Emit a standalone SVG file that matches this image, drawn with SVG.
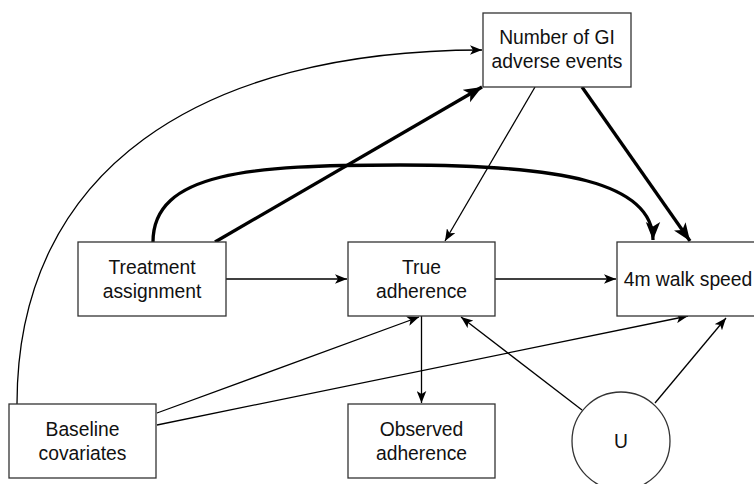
<svg xmlns="http://www.w3.org/2000/svg" width="754" height="484" viewBox="0 0 754 484">
<defs>
<marker id="a" viewBox="0 0 10 8" markerWidth="12" markerHeight="10" refX="10" refY="4" orient="auto" markerUnits="userSpaceOnUse"><path d="M0,0 L10,4 L0,8 L2.5,4 Z" fill="#000"/></marker>
<marker id="b" viewBox="0 0 10 8" markerWidth="18" markerHeight="16" refX="10" refY="4" orient="auto" markerUnits="userSpaceOnUse"><path d="M0,0 L10,4 L0,8 L2.5,4 Z" fill="#000"/></marker>
</defs>
<style>
.n rect,.n ellipse{fill:#fff;stroke:#333;stroke-width:1.3}
.n text{font-family:"Liberation Sans",Arial,sans-serif;font-size:19.3px;fill:#111;text-anchor:middle}
.t{fill:none;stroke:#000;stroke-width:1.3;marker-end:url(#a)}
.k{fill:none;stroke:#000;stroke-width:3.3;marker-end:url(#b)}
</style>
<rect width="754" height="484" fill="#fff"/>
<g id="connectors">
<path class="t" d="M17,404 C17,170 200,50 482,50"/>
<path class="k" d="M215,242 L482,87"/>
<path class="k" d="M153,242 C153,172 250,165 400,165 C560,165 653,182 653,240"/>
<path class="k" d="M582,87 L690,241"/>
<path class="t" d="M535,87 L445,241"/>
<path class="t" d="M226,279 L347,279"/>
<path class="t" d="M495,279 L616,279"/>
<path class="t" d="M421.5,316 L421.5,403"/>
<path class="t" d="M157,413 L419,317"/>
<path class="t" d="M157,425 L688,316"/>
<path class="t" d="M582,410 L461,317"/>
<path class="t" d="M655,403 L726,318"/>
</g>
<g id="gi" class="n"><rect x="483" y="13" width="148" height="74"/><text x="557" y="44">Number of GI</text><text x="557" y="68">adverse events</text></g>
<g id="treatment" class="n"><rect x="78" y="242" width="148" height="74"/><text x="152" y="274">Treatment</text><text x="152" y="298">assignment</text></g>
<g id="true" class="n"><rect x="348" y="242" width="147" height="74"/><text x="421.5" y="274">True</text><text x="421.5" y="298">adherence</text></g>
<g id="walk" class="n"><rect x="617" y="242" width="148" height="74"/><text x="688" y="286">4m walk speed</text></g>
<g id="baseline" class="n"><rect x="9" y="404" width="147" height="74"/><text x="82.5" y="436">Baseline</text><text x="82.5" y="460">covariates</text></g>
<g id="observed" class="n"><rect x="348" y="404" width="147" height="74"/><text x="421.5" y="436">Observed</text><text x="421.5" y="460">adherence</text></g>
<g id="u" class="n"><ellipse cx="621" cy="441" rx="49" ry="49"/><text x="621" y="448">U</text></g>
</svg>
